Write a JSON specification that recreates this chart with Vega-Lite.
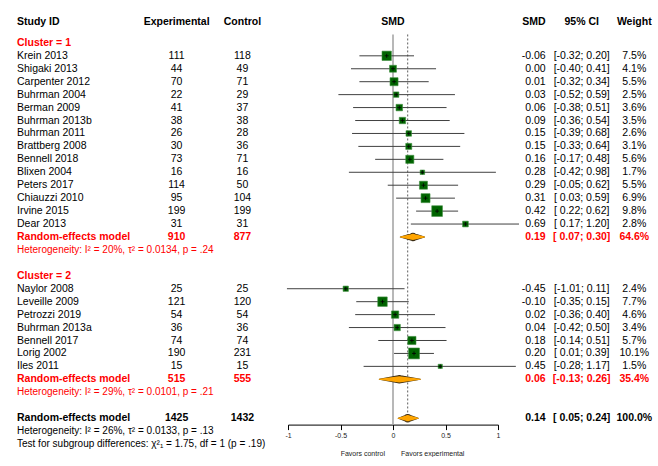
{
  "$schema": "https://vega.github.io/schema/vega-lite/v6.json",
  "background": "white",
  "padding": {"left": 17, "top": 17, "right": 0, "bottom": 0},
  "bounds": "flush",
  "spacing": 0,
  "datasets": {
    "studies": [
      {"row": 1, "study": "Krein 2013", "exp": 111, "ctl": 118, "smd": -0.06, "lo": -0.32, "hi": 0.20, "ci": "[-0.32; 0.20]", "weight": 0.075},
      {"row": 2, "study": "Shigaki 2013", "exp": 44, "ctl": 49, "smd": 0.00, "lo": -0.40, "hi": 0.41, "ci": "[-0.40; 0.41]", "weight": 0.041},
      {"row": 3, "study": "Carpenter 2012", "exp": 70, "ctl": 71, "smd": 0.01, "lo": -0.32, "hi": 0.34, "ci": "[-0.32; 0.34]", "weight": 0.055},
      {"row": 4, "study": "Buhrman 2004", "exp": 22, "ctl": 29, "smd": 0.03, "lo": -0.52, "hi": 0.59, "ci": "[-0.52; 0.59]", "weight": 0.025},
      {"row": 5, "study": "Berman 2009", "exp": 41, "ctl": 37, "smd": 0.06, "lo": -0.38, "hi": 0.51, "ci": "[-0.38; 0.51]", "weight": 0.036},
      {"row": 6, "study": "Buhrman 2013b", "exp": 38, "ctl": 38, "smd": 0.09, "lo": -0.36, "hi": 0.54, "ci": "[-0.36; 0.54]", "weight": 0.035},
      {"row": 7, "study": "Buhrman 2011", "exp": 26, "ctl": 28, "smd": 0.15, "lo": -0.39, "hi": 0.68, "ci": "[-0.39; 0.68]", "weight": 0.026},
      {"row": 8, "study": "Brattberg 2008", "exp": 30, "ctl": 36, "smd": 0.15, "lo": -0.33, "hi": 0.64, "ci": "[-0.33; 0.64]", "weight": 0.031},
      {"row": 9, "study": "Bennell 2018", "exp": 73, "ctl": 71, "smd": 0.16, "lo": -0.17, "hi": 0.48, "ci": "[-0.17; 0.48]", "weight": 0.056},
      {"row": 10, "study": "Blixen 2004", "exp": 16, "ctl": 16, "smd": 0.28, "lo": -0.42, "hi": 0.98, "ci": "[-0.42; 0.98]", "weight": 0.017},
      {"row": 11, "study": "Peters 2017", "exp": 114, "ctl": 50, "smd": 0.29, "lo": -0.05, "hi": 0.62, "ci": "[-0.05; 0.62]", "weight": 0.055},
      {"row": 12, "study": "Chiauzzi 2010", "exp": 95, "ctl": 104, "smd": 0.31, "lo": 0.03, "hi": 0.59, "ci": "[ 0.03; 0.59]", "weight": 0.069},
      {"row": 13, "study": "Irvine 2015", "exp": 199, "ctl": 199, "smd": 0.42, "lo": 0.22, "hi": 0.62, "ci": "[ 0.22; 0.62]", "weight": 0.098},
      {"row": 14, "study": "Dear 2013", "exp": 31, "ctl": 31, "smd": 0.69, "lo": 0.17, "hi": 1.20, "ci": "[ 0.17; 1.20]", "weight": 0.028},
      {"row": 19, "study": "Naylor 2008", "exp": 25, "ctl": 25, "smd": -0.45, "lo": -1.01, "hi": 0.11, "ci": "[-1.01; 0.11]", "weight": 0.024},
      {"row": 20, "study": "Leveille 2009", "exp": 121, "ctl": 120, "smd": -0.10, "lo": -0.35, "hi": 0.15, "ci": "[-0.35; 0.15]", "weight": 0.077},
      {"row": 21, "study": "Petrozzi 2019", "exp": 54, "ctl": 54, "smd": 0.02, "lo": -0.36, "hi": 0.40, "ci": "[-0.36; 0.40]", "weight": 0.046},
      {"row": 22, "study": "Buhrman 2013a", "exp": 36, "ctl": 36, "smd": 0.04, "lo": -0.42, "hi": 0.50, "ci": "[-0.42; 0.50]", "weight": 0.034},
      {"row": 23, "study": "Bennell 2017", "exp": 74, "ctl": 74, "smd": 0.18, "lo": -0.14, "hi": 0.51, "ci": "[-0.14; 0.51]", "weight": 0.057},
      {"row": 24, "study": "Lorig 2002", "exp": 190, "ctl": 231, "smd": 0.20, "lo": 0.01, "hi": 0.39, "ci": "[ 0.01; 0.39]", "weight": 0.101},
      {"row": 25, "study": "Iles 2011", "exp": 15, "ctl": 15, "smd": 0.45, "lo": -0.28, "hi": 1.17, "ci": "[-0.28; 1.17]", "weight": 0.015}
    ],
    "models": [
      {"row": 15, "label": "Random-effects model", "level": "subgroup", "exp": 910, "ctl": 877, "smd": 0.19, "lo": 0.07, "hi": 0.30, "ci": "[ 0.07; 0.30]", "weight": 0.646},
      {"row": 26, "label": "Random-effects model", "level": "subgroup", "exp": 515, "ctl": 555, "smd": 0.06, "lo": -0.13, "hi": 0.26, "ci": "[-0.13; 0.26]", "weight": 0.354},
      {"row": 29, "label": "Random-effects model", "level": "overall", "exp": 1425, "ctl": 1432, "smd": 0.14, "lo": 0.05, "hi": 0.24, "ci": "[ 0.05; 0.24]", "weight": 1.0}
    ],
    "notes": [
      {"row": 0, "text": "Cluster = 1", "level": "subgroup", "kind": "label"},
      {"row": 16, "text": "Heterogeneity: I² = 20%, τ² = 0.0134, p = .24", "level": "subgroup", "kind": "stat"},
      {"row": 18, "text": "Cluster = 2", "level": "subgroup", "kind": "label"},
      {"row": 27, "text": "Heterogeneity: I² = 29%, τ² = 0.0101, p = .21", "level": "subgroup", "kind": "stat"},
      {"row": 30, "text": "Heterogeneity: I² = 26%, τ² = 0.0133, p = .13", "level": "overall", "kind": "stat"},
      {"row": 31, "text": "Test for subgroup differences: χ²₁ = 1.75, df = 1 (p = .19)", "level": "overall", "kind": "stat"}
    ]
  },
  "hconcat": [
    {
      "width": 139.7, "height": 440,
      "encoding": {"y": {"field": "row", "type": "quantitative", "scale": {"domain": [-2, 32], "reverse": true}, "axis": null}},
      "layer": [
        {"data": {"values": [{"row": -1.6, "text": "Study ID"}]},
         "mark": {"type": "text", "align": "left", "fontWeight": "bold"},
         "encoding": {"x": {"datum": 0, "type": "quantitative", "scale": {"domain": [0, 1]}, "axis": null}, "text": {"field": "text"}}},
        {"data": {"name": "studies"},
         "mark": {"type": "text", "align": "left"},
         "encoding": {"x": {"datum": 0, "type": "quantitative", "scale": {"domain": [0, 1]}, "axis": null}, "text": {"field": "study"}}},
        {"data": {"name": "notes"}, "transform": [{"filter": "datum.kind === 'label'"}],
         "mark": {"type": "text", "align": "left", "fontWeight": "bold"},
         "encoding": {"x": {"datum": 0, "type": "quantitative", "scale": {"domain": [0, 1]}, "axis": null}, "text": {"field": "text"},
                      "color": {"field": "level", "type": "nominal", "scale": {"domain": ["subgroup", "overall"], "range": ["#FF0000", "#000000"]}, "legend": null}}},
        {"data": {"name": "notes"}, "transform": [{"filter": "datum.kind === 'stat'"}],
         "mark": {"type": "text", "align": "left", "fontSize": 10},
         "encoding": {"x": {"datum": 0, "type": "quantitative", "scale": {"domain": [0, 1]}, "axis": null}, "text": {"field": "text"},
                      "color": {"field": "level", "type": "nominal", "scale": {"domain": ["subgroup", "overall"], "range": ["#FF0000", "#000000"]}, "legend": null}}},
        {"data": {"name": "models"},
         "mark": {"type": "text", "align": "left", "fontWeight": "bold"},
         "encoding": {"x": {"datum": 0, "type": "quantitative", "scale": {"domain": [0, 1]}, "axis": null}, "text": {"field": "label"},
                      "color": {"field": "level", "type": "nominal", "scale": {"domain": ["subgroup", "overall"], "range": ["#FF0000", "#000000"]}, "legend": null}}}
      ]
    },
    {
      "width": 39.2, "height": 440,
      "encoding": {"y": {"field": "row", "type": "quantitative", "scale": {"domain": [-2, 32], "reverse": true}, "axis": null}},
      "layer": [
        {"data": {"values": [{"row": -1.6, "text": "Experimental"}]},
         "mark": {"type": "text", "fontWeight": "bold"},
         "encoding": {"text": {"field": "text"}}},
        {"data": {"name": "studies"},
         "mark": {"type": "text"},
         "encoding": {"text": {"field": "exp", "type": "nominal"}}},
        {"data": {"name": "models"},
         "mark": {"type": "text", "fontWeight": "bold"},
         "encoding": {"text": {"field": "exp", "type": "nominal"},
                      "color": {"field": "level", "type": "nominal", "scale": {"domain": ["subgroup", "overall"], "range": ["#FF0000", "#000000"]}, "legend": null}}}
      ]
    },
    {
      "width": 90.8, "height": 440,
      "encoding": {"y": {"field": "row", "type": "quantitative", "scale": {"domain": [-2, 32], "reverse": true}, "axis": null}},
      "layer": [
        {"data": {"values": [{"row": -1.6, "text": "Control"}]},
         "mark": {"type": "text", "fontWeight": "bold"},
         "encoding": {"text": {"field": "text"}}},
        {"data": {"name": "studies"},
         "mark": {"type": "text"},
         "encoding": {"text": {"field": "ctl", "type": "nominal"}}},
        {"data": {"name": "models"},
         "mark": {"type": "text", "fontWeight": "bold"},
         "encoding": {"text": {"field": "ctl", "type": "nominal"},
                      "color": {"field": "level", "type": "nominal", "scale": {"domain": ["subgroup", "overall"], "range": ["#FF0000", "#000000"]}, "legend": null}}}
      ]
    },
    {
      "width": 210, "height": 407.6,
      "encoding": {"y": {"field": "row", "type": "quantitative", "scale": {"domain": [-2, 29.5], "reverse": true}, "axis": null}},
      "layer": [
        {"data": {"values": [{"smd": 0, "top": -0.65, "bottom": 29.5}]},
         "mark": {"type": "rule", "color": "#a0a0a0", "strokeWidth": 1.5},
         "encoding": {
           "x": {"field": "smd", "type": "quantitative", "scale": {"domain": [-1, 1], "nice": false, "zero": false},
                 "axis": {"values": [-1, -0.5, 0, 0.5, 1], "format": "~g", "title": null, "grid": false, "labelFontSize": 7, "labelFont": "Liberation Sans", "labelColor": "#222", "tickSize": 5, "tickColor": "#000", "domainColor": "#000", "labelPadding": 2, "labelFlush": false}},
           "y": {"field": "top", "type": "quantitative"},
           "y2": {"field": "bottom"}}},
        {"data": {"name": "models"}, "transform": [{"filter": "datum.level === 'overall'"}],
         "mark": {"type": "rule", "color": "#333", "strokeWidth": 0.8, "strokeDash": [2, 2]},
         "encoding": {
           "x": {"field": "smd", "type": "quantitative", "scale": {"domain": [-1, 1]}, "title": null},
           "y": {"datum": -0.65, "type": "quantitative"},
           "y2": {"field": "row"}}},
        {"data": {"name": "studies"},
         "mark": {"type": "rule", "color": "#404040", "strokeWidth": 1},
         "encoding": {
           "x": {"field": "lo", "type": "quantitative", "scale": {"domain": [-1, 1]}, "title": null},
           "x2": {"field": "hi"}}},
        {"data": {"name": "studies"},
         "mark": {"type": "point", "shape": "square", "filled": true, "color": "#006400", "opacity": 1, "stroke": "#3f8f3f", "strokeWidth": 0.6},
         "encoding": {
           "x": {"field": "smd", "type": "quantitative", "scale": {"domain": [-1, 1]}, "title": null},
           "size": {"field": "weight", "type": "quantitative", "scale": {"domain": [0, 0.1], "range": [0, 117]}, "legend": null}}},
        {"data": {"name": "studies"},
         "mark": {"type": "point", "shape": "M-1,0H1M0,-1V1", "filled": false, "stroke": "#000", "strokeWidth": 0.8, "size": 16, "opacity": 1},
         "encoding": {
           "x": {"field": "smd", "type": "quantitative", "scale": {"domain": [-1, 1]}, "title": null}}},
        {"data": {"name": "models"}, "transform": [{"fold": ["lo", "smd", "hi"], "as": ["vertex", "xval"]}],
         "mark": {"type": "trail", "color": "#3a2a10"},
         "encoding": {
           "x": {"field": "xval", "type": "quantitative", "scale": {"domain": [-1, 1]}, "title": null},
           "detail": {"field": "row", "type": "nominal"},
           "size": {"field": "vertex", "type": "ordinal", "scale": {"type": "ordinal", "domain": ["lo", "smd", "hi"], "range": [0, 8.5, 0]}, "legend": null}}},
        {"data": {"name": "models"}, "transform": [{"fold": ["lo", "smd", "hi"], "as": ["vertex", "xval"]}],
         "mark": {"type": "trail", "color": "#FFA500"},
         "encoding": {
           "x": {"field": "xval", "type": "quantitative", "scale": {"domain": [-1, 1]}, "title": null},
           "detail": {"field": "row", "type": "nominal"},
           "size": {"field": "vertex", "type": "ordinal", "scale": {"type": "ordinal", "domain": ["lo", "smd", "hi"], "range": [0, 6.3, 0]}, "legend": null}}},
        {"data": {"values": [{"row": -1.6, "text": "SMD"}]},
         "mark": {"type": "text", "fontWeight": "bold"},
         "encoding": {"x": {"datum": 0, "type": "quantitative", "scale": {"domain": [-1, 1]}, "title": null}, "text": {"field": "text"}}},
        {"data": {"values": [{"row": 31.75, "text": "Favors control"}]},
         "mark": {"type": "text", "align": "right", "dx": -8, "fontSize": 7, "color": "#222"},
         "encoding": {"x": {"datum": 0, "type": "quantitative", "scale": {"domain": [-1, 1]}, "title": null}, "text": {"field": "text"}}},
        {"data": {"values": [{"row": 31.75, "text": "Favors experimental"}]},
         "mark": {"type": "text", "align": "left", "dx": 8, "fontSize": 7, "color": "#222"},
         "encoding": {"x": {"datum": 0, "type": "quantitative", "scale": {"domain": [-1, 1]}, "title": null}, "text": {"field": "text"}}}
      ]
    },
    {
      "width": 47.6, "height": 440,
      "encoding": {"y": {"field": "row", "type": "quantitative", "scale": {"domain": [-2, 32], "reverse": true}, "axis": null}},
      "layer": [
        {"data": {"values": [{"row": -1.6, "text": "SMD"}]},
         "mark": {"type": "text", "align": "right", "fontWeight": "bold"},
         "encoding": {"x": {"datum": 1, "type": "quantitative", "scale": {"domain": [0, 1]}, "axis": null}, "text": {"field": "text"}}},
        {"data": {"name": "studies"},
         "mark": {"type": "text", "align": "right"},
         "encoding": {"x": {"datum": 1, "type": "quantitative", "scale": {"domain": [0, 1]}, "axis": null}, "text": {"field": "smd", "type": "quantitative", "format": ".2f"}}},
        {"data": {"name": "models"},
         "mark": {"type": "text", "align": "right", "fontWeight": "bold"},
         "encoding": {"x": {"datum": 1, "type": "quantitative", "scale": {"domain": [0, 1]}, "axis": null}, "text": {"field": "smd", "type": "quantitative", "format": ".2f"},
                      "color": {"field": "level", "type": "nominal", "scale": {"domain": ["subgroup", "overall"], "range": ["#FF0000", "#000000"]}, "legend": null}}}
      ]
    },
    {
      "width": 71.4, "height": 440,
      "encoding": {"y": {"field": "row", "type": "quantitative", "scale": {"domain": [-2, 32], "reverse": true}, "axis": null}},
      "layer": [
        {"data": {"values": [{"row": -1.6, "text": "95% CI"}]},
         "mark": {"type": "text", "fontWeight": "bold"},
         "encoding": {"text": {"field": "text"}}},
        {"data": {"name": "studies"},
         "mark": {"type": "text"},
         "encoding": {"text": {"field": "ci", "type": "nominal"}}},
        {"data": {"name": "models"},
         "mark": {"type": "text", "fontWeight": "bold"},
         "encoding": {"text": {"field": "ci", "type": "nominal"},
                      "color": {"field": "level", "type": "nominal", "scale": {"domain": ["subgroup", "overall"], "range": ["#FF0000", "#000000"]}, "legend": null}}}
      ]
    },
    {
      "width": 32.6, "height": 440,
      "encoding": {"y": {"field": "row", "type": "quantitative", "scale": {"domain": [-2, 32], "reverse": true}, "axis": null}},
      "layer": [
        {"data": {"values": [{"row": -1.6, "text": "Weight"}]},
         "mark": {"type": "text", "fontWeight": "bold"},
         "encoding": {"text": {"field": "text"}}},
        {"data": {"name": "studies"},
         "mark": {"type": "text"},
         "encoding": {"text": {"field": "weight", "type": "quantitative", "format": ".1%"}}},
        {"data": {"name": "models"},
         "mark": {"type": "text", "fontWeight": "bold"},
         "encoding": {"text": {"field": "weight", "type": "quantitative", "format": ".1%"},
                      "color": {"field": "level", "type": "nominal", "scale": {"domain": ["subgroup", "overall"], "range": ["#FF0000", "#000000"]}, "legend": null}}}
      ]
    }
  ],
  "config": {
    "view": {"stroke": null},
    "text": {"font": "Liberation Sans", "fontSize": 10.5, "baseline": "middle", "color": "#000"},
    "locale": {"number": {"decimal": ".", "thousands": ",", "grouping": [3], "currency": ["$", ""], "minus": "-"}}
  }
}
